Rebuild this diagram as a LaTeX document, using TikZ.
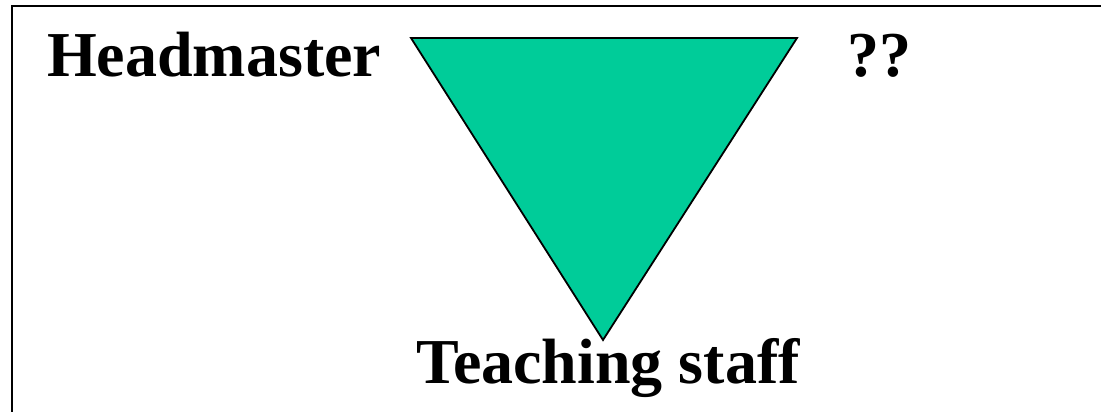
\documentclass[tikz,border=0pt]{standalone}
\usepackage{fontspec}
\setmainfont{Liberation Serif}
\definecolor{tri}{HTML}{00CC99}
\tikzset{
  lbl/.style={anchor=base west, inner sep=0pt, font=\fontsize{64}{70}\selectfont\bfseries},
  frame/.style={line width=2.4pt, line cap=rect},
  tribox/.style={fill=tri, draw=black, line width=1.8pt, line join=miter}
}
\begin{document}
\begin{tikzpicture}[x=1pt,y=-1pt]
\useasboundingbox (0,0) rectangle (1101,412);
\draw[frame] (12,412) -- (12,6) -- (1101,6);
\coordinate (tl) at (411,38);
\coordinate (tr) at (797,38);
\coordinate (bt) at (603,340);
\filldraw[tribox] (tl) -- (tr) -- (bt) -- cycle;
\node[lbl] (head) at (47,77) {Headmaster};
\node[lbl] (qq) at (847,77) {??};
\node[lbl] (staff) at (416,383) {Teaching staff};
\end{tikzpicture}
\end{document}
